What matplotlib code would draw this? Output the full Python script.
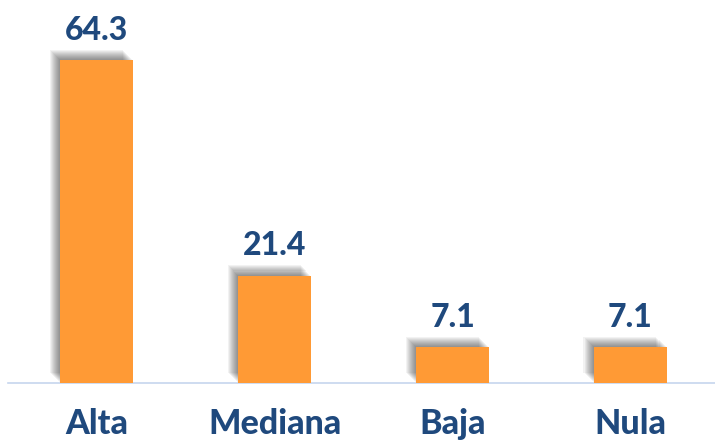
import matplotlib.pyplot as plt
import matplotlib.patheffects as pe

categories = ['Alta', 'Mediana', 'Baja', 'Nula']
values = [64.3, 21.4, 7.1, 7.1]
value_labels = ['64.3', '21.4', '7.1', '7.1']

BAR_COLOR = '#FF9A35'
TEXT_COLOR = '#1F497D'
BASE_COLOR = '#C6D6EE'

fig = plt.figure(figsize=(7.15, 4.45), dpi=100)
ax = fig.add_axes([0.011, 0.139, 0.995, 0.861])

# blurred shadow up-left of each bar, built from many soft layers
shadow = [pe.SimplePatchShadow(offset=(-d * 0.75, d * 0.75), shadow_rgbFace='black', alpha=0.05)
          for d in range(10, 0, -1)]
bars = ax.bar(range(len(categories)), values, width=0.41, color=BAR_COLOR, zorder=3)
for b in bars:
    b.set_path_effects(shadow + [pe.Normal()])

for i, (v, lab) in enumerate(zip(values, value_labels)):
    ax.annotate(lab, (i, v), xytext=(0, 11), textcoords='offset points',
                ha='center', va='bottom', fontsize=23, fontweight='black',
                family='Lato', color=TEXT_COLOR)

ax.set_xlim(-0.5, 3.5)
ax.set_ylim(0, 76.3)
ax.set_xticks(range(len(categories)))
ax.set_xticklabels(categories, fontsize=24.5, fontweight='black', family='Lato', color=TEXT_COLOR)
ax.tick_params(axis='x', length=0, pad=18)
ax.set_yticks([])
for s in ['top', 'right', 'left']:
    ax.spines[s].set_visible(False)
ax.spines['bottom'].set_color(BASE_COLOR)
ax.spines['bottom'].set_linewidth(1.2)

fig.savefig('out.png', dpi=100)
